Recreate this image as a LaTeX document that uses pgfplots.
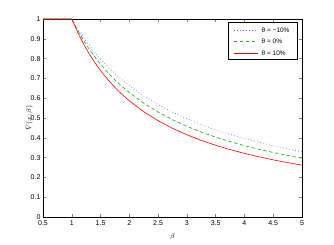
\documentclass[border=0pt]{standalone}
\usepackage{pgfplots}
\pgfplotsset{compat=1.18}
\usepackage{fontspec}
\setmainfont{Liberation Sans}
\definecolor{cblue}{RGB}{100,120,255}
\definecolor{cgreen}{RGB}{50,175,50}
\definecolor{cred}{RGB}{255,0,0}
\begin{document}
\begin{tikzpicture}
\begin{axis}[
  scale only axis,
  width=259pt, height=198pt,
  xmin=0.5, xmax=5, ymin=0, ymax=1,
  xtick={0.5,1,1.5,2,2.5,3,3.5,4,4.5,5},
  xticklabels={0.5,1,1.5,2,2.5,3,3.5,4,4.5,5},
  ytick={0,0.1,0.2,0.3,0.4,0.5,0.6,0.7,0.8,0.9,1},
  yticklabels={0,0.1,0.2,0.3,0.4,0.5,0.6,0.7,0.8,0.9,1},
  tick align=inside,
  major tick length=3pt,
  tick style={line width=0.4pt},
  axis line style={line width=0.5pt},
  ticklabel style={font=\fontsize{7}{8}\selectfont},
  xticklabel style={yshift=0pt},
  yticklabel style={xshift=1pt},
  xlabel={$\beta$},
  ylabel={$\bar V(x;\beta)$},
  label style={font=\fontsize{7}{8}\selectfont},
  xlabel style={yshift=-1pt},
  ylabel style={yshift=-9pt},
]
\addplot[draw=cblue, line width=0.7pt, dash pattern=on 0.7pt off 2.3pt] coordinates {
(0.5,1) (1,1) (1.1,0.9517) (1.2,0.9078) (1.3,0.8678) (1.4,0.8312) (1.5,0.7976)
(1.6,0.7665) (1.7,0.7378) (1.8,0.7112) (1.9,0.6864) (2,0.6633) (2.25,0.6118)
(2.5,0.5677) (2.75,0.5296) (3,0.4962) (3.25,0.4668) (3.5,0.4407) (3.75,0.4174)
(4,0.3964) (4.25,0.3774) (4.5,0.3601) (4.75,0.3444) (5,0.3300)};
\addplot[draw=cgreen, line width=0.7pt, dash pattern=on 3.5pt off 2.5pt] coordinates {
(0.5,1) (1,1) (1.1,0.9441) (1.2,0.8942) (1.3,0.8492) (1.4,0.8086) (1.5,0.7717)
(1.6,0.7380) (1.7,0.7071) (1.8,0.6787) (1.9,0.6525) (2,0.6283) (2.25,0.5748)
(2.5,0.5298) (2.75,0.4913) (3,0.4580) (3.25,0.4289) (3.5,0.4033) (3.75,0.3806)
(4,0.3603) (4.25,0.3421) (4.5,0.3256) (4.75,0.3107) (5,0.2970)};
\addplot[draw=cred, line width=0.6pt] coordinates {
(0.5,1) (1,1) (1.1,0.9342) (1.2,0.8765) (1.3,0.8256) (1.4,0.7802) (1.5,0.7396)
(1.6,0.7030) (1.7,0.6698) (1.8,0.6396) (1.9,0.6121) (2,0.5868) (2.25,0.5318)
(2.5,0.4863) (2.75,0.4479) (3,0.4152) (3.25,0.3869) (3.5,0.3622) (3.75,0.3405)
(4,0.3213) (4.25,0.3041) (4.5,0.2886) (4.75,0.2747) (5,0.2620)};
\end{axis}
% legend
\draw[line width=0.5pt, fill=white] ([shift={(-74pt,-3.7pt)}]current axis.north east) rectangle ([shift={(-5pt,-40.3pt)}]current axis.north east);
\node[anchor=west, inner sep=0pt, font=\fontsize{6.5}{7.5}\selectfont] at ([shift={(-40.5pt,-11pt)}]current axis.north east) {θ = −10\%};
\node[anchor=west, inner sep=0pt, font=\fontsize{6.5}{7.5}\selectfont] at ([shift={(-40.5pt,-22.5pt)}]current axis.north east) {θ = 0\%};
\node[anchor=west, inner sep=0pt, font=\fontsize{6.5}{7.5}\selectfont] at ([shift={(-40.5pt,-34pt)}]current axis.north east) {θ = 10\%};
\draw[cblue, line width=0.7pt, dash pattern=on 0.7pt off 2.3pt] ([shift={(-68.3pt,-11pt)}]current axis.north east) -- ([shift={(-44.3pt,-11pt)}]current axis.north east);
\draw[cgreen, line width=0.7pt, dash pattern=on 3.5pt off 2.5pt] ([shift={(-68.3pt,-22.5pt)}]current axis.north east) -- ([shift={(-44.3pt,-22.5pt)}]current axis.north east);
\draw[cred, line width=0.6pt] ([shift={(-68.3pt,-34pt)}]current axis.north east) -- ([shift={(-44.3pt,-34pt)}]current axis.north east);
\path[draw=none] (current axis.south west) -- (current axis.south west);
\pgfresetboundingbox
\path ([shift={(-43pt,-28pt)}]current axis.south west) rectangle ([shift={(32pt,19pt)}]current axis.north east);
\end{tikzpicture}
\end{document}
